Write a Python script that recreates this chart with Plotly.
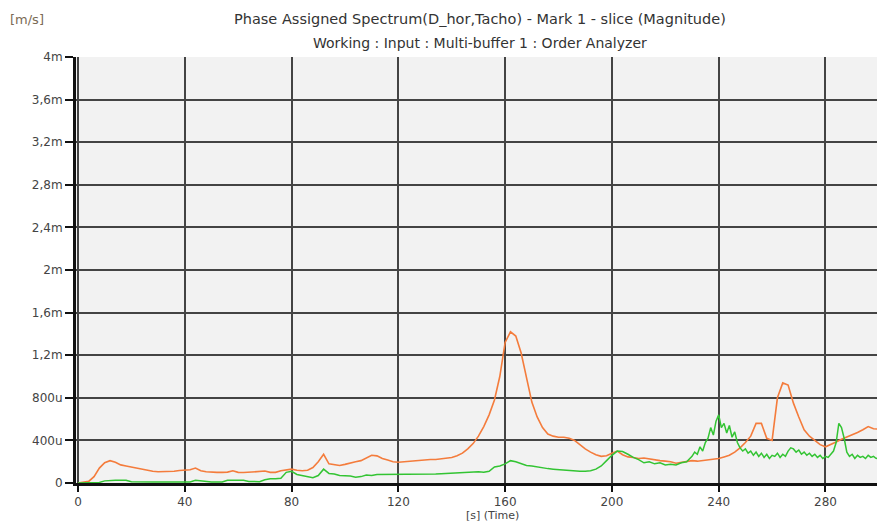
import plotly.graph_objects as go

time_orange = list(range(0, 302, 2))
orange_u = [0, 5, 15, 60, 140, 190, 210, 195, 170, 160,
            150, 140, 125, 115, 110, 105, 105, 110, 110, 118,
            120, 125, 140, 115, 105, 100, 100, 100, 102, 115,
            100, 98, 100, 102, 110, 112, 100, 100, 115, 120,
            130, 120, 115, 120, 145, 200, 270, 180, 170, 165,
            175, 190, 200, 210, 235, 260, 255, 230, 215, 200,
            195, 200, 205, 205, 210, 215, 220, 220, 225, 230,
            240, 255, 280, 320, 370, 440, 530, 640, 780, 1000,
            1320, 1420, 1380, 1220, 980, 760, 620, 520, 460, 440,
            430, 430, 420, 400, 360, 320, 290, 265, 250, 255,
            280, 300, 265, 245, 240, 230, 235, 225, 215, 210,
            205, 200, 185, 195, 200, 210, 205, 210, 220, 225,
            230, 245, 260, 290, 330, 380, 440, 560, 560, 420,
            400, 800, 940, 920, 750, 620, 500, 440, 400, 360,
            340, 360, 385, 410, 430, 450, 475, 500, 530, 510,
            505]

time_green = list(range(0, 230, 2)) + list(range(230, 301))
green_u = [0, 0, 0, 2, 5, 20, 25, 25, 25, 25,
           12, 10, 10, 10, 10, 10, 10, 10, 10, 10,
           10, 10, 25, 20, 10, 10, 10, 10, 25, 25,
           25, 25, 15, 12, 12, 30, 40, 40, 45, 100,
           110, 80, 70, 55, 50, 70, 130, 90, 85, 70,
           70, 65, 55, 60, 75, 70, 80, 80, 80, 80,
           80, 80, 80, 80, 82, 85, 85, 85, 88, 90,
           95, 95, 100, 95, 100, 105, 100, 110, 150, 160,
           180, 210, 200, 180, 165, 160, 150, 140, 135, 130,
           125, 120, 115, 110, 110, 110, 115, 130, 160, 210,
           260, 300, 295, 270, 240, 220, 190, 200, 180, 190,
           170, 175, 170, 190, 200,
           # 230 .. 300, one per second
           250, 290, 270, 340, 300, 380, 420, 520, 450, 580,
           640, 520, 560, 470, 540, 430, 480, 380, 330, 300,
           320, 280, 300, 260, 290, 250, 280, 240, 270, 230,
           260, 250, 280, 240, 270, 250, 300, 330, 320, 290,
           310, 270, 290, 260, 280, 250, 270, 240, 260, 230,
           250, 240, 270, 300, 380, 560, 520, 420, 290, 250,
           270, 230, 260, 240, 250, 230, 260, 240, 250, 230,
           240]

y_tick_vals_u = [0, 400, 800, 1200, 1600, 2000, 2400, 2800, 3200, 3600, 4000]
y_tick_text = ["0", "400u", "800u", "1,2m", "1,6m", "2m", "2,4m", "2,8m", "3,2m", "3,6m", "4m"]
x_tick_vals = [0, 40, 80, 120, 160, 200, 240, 280]

fig = go.Figure()
fig.add_trace(go.Scatter(x=time_orange, y=[v * 1e-6 for v in orange_u], mode="lines",
                         line=dict(color="#f47c3c", width=1.6), showlegend=False))
fig.add_trace(go.Scatter(x=time_green, y=[v * 1e-6 for v in green_u], mode="lines",
                         line=dict(color="#33c433", width=1.5), showlegend=False))

font_family = "DejaVu Sans, Verdana, sans-serif"
tickfont = dict(family=font_family, size=12, color="#444444")
fig.update_layout(
    width=877, height=523,
    margin=dict(l=76, r=0, t=57, b=40),
    paper_bgcolor="white",
    plot_bgcolor="#f2f2f2",
    font=dict(family=font_family, size=12, color="#333333"),
    xaxis=dict(range=[-0.75, 299.3], tickvals=x_tick_vals,
               showgrid=True, gridcolor="#444444", gridwidth=2,
               showline=True, linecolor="#111111", linewidth=3,
               ticks="outside", ticklen=6, tickwidth=2, tickcolor="#111111",
               zeroline=False, tickfont=tickfont),
    yaxis=dict(range=[0, 4e-3], tickvals=[v * 1e-6 for v in y_tick_vals_u], ticktext=y_tick_text,
               showgrid=True, gridcolor="#444444", gridwidth=2,
               showline=True, linecolor="#111111", linewidth=3,
               ticks="outside", ticklen=8, tickwidth=2, tickcolor="#111111",
               zeroline=False, tickfont=tickfont),
)

W, H = 877, 523
L, R, T, B = 76, 0, 57, 40
pw, ph = W - L - R, H - T - B


def px_annot(text, px, py, size, color):
    fig.add_annotation(text=text, xref="paper", yref="paper",
                       x=(px - L) / pw, y=(H - py - B) / ph,
                       xanchor="center", yanchor="middle", showarrow=False,
                       font=dict(family=font_family, size=size, color=color))


px_annot("Phase Assigned Spectrum(D_hor,Tacho) - Mark 1 - slice (Magnitude)", 480, 19, 14.5, "#333333")
px_annot("Working : Input : Multi-buffer 1 : Order Analyzer", 480, 43, 14, "#333333")
px_annot("[m/s]", 27, 19, 13, "#7a6a55")
px_annot("[s] (Time)", 492, 515, 11, "#444444")

fig.write_html("out.html")
